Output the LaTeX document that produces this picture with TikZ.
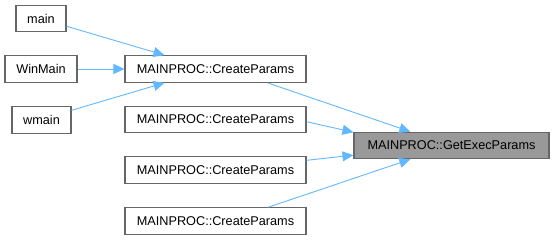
\documentclass[tikz,border=0pt]{standalone}
\usepackage{fontspec}
\setmainfont{Liberation Sans}
\usetikzlibrary{arrows.meta,calc}
\definecolor{edgeblue}{HTML}{63B8FF}
\definecolor{boxline}{HTML}{666666}
\definecolor{hilite}{HTML}{999999}
\begin{document}
\begin{tikzpicture}[x=1pt,y=-1pt,
  fn/.style={draw=boxline,fill=white,line width=1.1pt,inner sep=0pt,
    minimum height=26.5pt,font=\fontsize{12.7}{14}\selectfont},
  cur/.style={fn,fill=hilite},
  call/.style={draw=edgeblue,line width=0.9pt,
    -{Triangle[length=11pt,width=10pt]}}]
\useasboundingbox (0,0) rectangle (555,240);
\fill[white] (0,0) rectangle (555,240);
% callers of CreateParams
\node[fn,minimum width=50pt] (main) at (41,18.5) {main};
\node[fn,minimum width=72pt] (winmain) at (41,69) {WinMain};
\node[fn,minimum width=59pt] (wmain) at (41.5,120) {wmain};
% CreateParams overloads
\node[fn,minimum width=181pt] (cp1) at (215.5,69) {MAINPROC::CreateParams};
\node[fn,minimum width=181pt] (cp2) at (215.5,119.5) {MAINPROC::CreateParams};
\node[fn,minimum width=181pt] (cp3) at (215.5,170) {MAINPROC::CreateParams};
\node[fn,minimum width=181pt] (cp4) at (215.5,221) {MAINPROC::CreateParams};
% callee
\node[cur,minimum width=195pt] (gep) at (451.5,145.5) {MAINPROC::GetExecParams};
% calls
\draw[call] ($(main.north east)!0.78!(main.south east)$)
  -- ($(cp1.north west)!0.22!(cp1.north east)$);
\draw[call] (winmain) -- (cp1);
\draw[call] ($(wmain.north east)!0.15!(wmain.south east)$)
  -- ($(cp1.south west)!0.22!(cp1.south east)$);
\draw[call] ($(cp1.south west)!0.785!(cp1.south east)$)
  -- ($(gep.north west)!0.29!(gep.north east)$);
\draw[call] ($(cp2.north east)!0.58!(cp2.south east)$)
  -- ($(gep.north west)!0.02!(gep.south west)$);
\draw[call] ($(cp3.north east)!0.15!(cp3.south east)$)
  -- ($(gep.north west)!0.85!(gep.south west)$);
\draw[call] ($(cp4.north west)!0.79!(cp4.north east)$)
  -- ($(gep.south west)!0.29!(gep.south east)$);
\end{tikzpicture}
\end{document}
